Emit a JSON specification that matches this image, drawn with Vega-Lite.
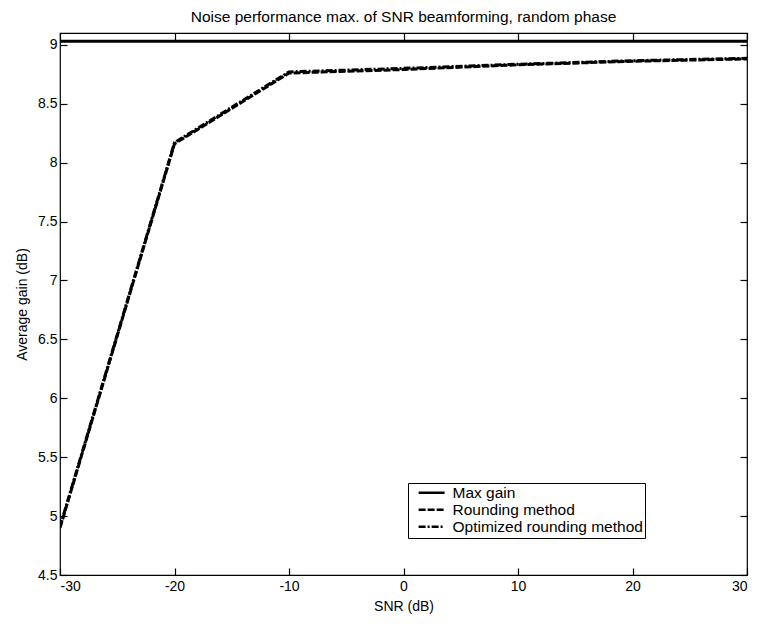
{
  "$schema": "https://vega.github.io/schema/vega-lite/v6.json",
  "width": 687,
  "height": 542,
  "autosize": {"type": "none"},
  "padding": {"left": 60, "top": 33, "right": 10, "bottom": 49},
  "background": "white",
  "title": {"text": "Noise performance max. of SNR beamforming, random phase", "fontSize": 15.5, "fontWeight": "normal", "font": "Liberation Sans", "color": "black", "offset": 7},
  "config": {
    "view": {"stroke": "black", "strokeWidth": 1.2},
    "font": "Liberation Sans",
    "axis": {"grid": false, "domain": false, "tickColor": "black", "tickSize": -7, "tickWidth": 1.2, "labelColor": "black", "labelFontSize": 14, "labelFont": "Liberation Sans", "titleFont": "Liberation Sans", "titleFontSize": 14, "titleFontWeight": "normal", "titleColor": "black", "labelExpr": "'' + datum.value"},
    "legend": {"orient": "none", "legendX": 348, "legendY": 450, "strokeColor": "black", "fillColor": "white", "padding": 2, "labelFontSize": 15.5, "labelColor": "black", "labelLimit": 400, "symbolType": "M0.2,0H6.2", "symbolSize": 75, "symbolStrokeWidth": 2.5, "symbolStrokeColor": "black", "labelOffset": 27, "rowPadding": 0, "title": null}
  },
  "data": {"values": [
    {"snr": -30, "gain": 9.031, "series": "Max gain"},
    {"snr": 30, "gain": 9.031, "series": "Max gain"},
    {"snr": -30, "gain": 4.90, "series": "Rounding method"},
    {"snr": -20, "gain": 8.16, "series": "Rounding method"},
    {"snr": -10, "gain": 8.76, "series": "Rounding method"},
    {"snr": 0, "gain": 8.79, "series": "Rounding method"},
    {"snr": 10, "gain": 8.83, "series": "Rounding method"},
    {"snr": 20, "gain": 8.86, "series": "Rounding method"},
    {"snr": 30, "gain": 8.88, "series": "Rounding method"},
    {"snr": -30, "gain": 4.91, "series": "Optimized rounding method"},
    {"snr": -20, "gain": 8.17, "series": "Optimized rounding method"},
    {"snr": -10, "gain": 8.77, "series": "Optimized rounding method"},
    {"snr": 0, "gain": 8.80, "series": "Optimized rounding method"},
    {"snr": 10, "gain": 8.835, "series": "Optimized rounding method"},
    {"snr": 20, "gain": 8.865, "series": "Optimized rounding method"},
    {"snr": 30, "gain": 8.885, "series": "Optimized rounding method"}
  ]},
  "layer": [
    {
      "mark": {"type": "line", "color": "black", "strokeWidth": 3, "clip": true},
      "encoding": {
        "x": {"field": "snr", "type": "quantitative", "scale": {"domain": [-30, 30], "nice": false, "zero": false}, "axis": {"values": [-30, -20, -10, 0, 10, 20, 30], "title": "SNR (dB)", "labelPadding": 11, "titlePadding": 6}},
        "y": {"field": "gain", "type": "quantitative", "scale": {"domain": [4.5, 9.1], "nice": false, "zero": false}, "axis": {"values": [4.5, 5, 5.5, 6, 6.5, 7, 7.5, 8, 8.5, 9], "title": "Average gain (dB)", "labelPadding": 10, "titlePadding": 8}},
        "strokeDash": {"field": "series", "type": "nominal", "scale": {"domain": ["Max gain", "Rounding method", "Optimized rounding method"], "range": [[1, 0], [7, 2], [7, 2, 2, 2]]}, "legend": {"title": null}},
        "detail": {"field": "series"}
      }
    },
    {
      "mark": {"type": "line", "strokeOpacity": 0},
      "encoding": {
        "x": {"field": "snr", "type": "quantitative", "axis": {"orient": "top", "values": [-30, -20, -10, 0, 10, 20, 30], "labels": false, "title": null}},
        "y": {"field": "gain", "type": "quantitative", "axis": {"orient": "right", "values": [4.5, 5, 5.5, 6, 6.5, 7, 7.5, 8, 8.5, 9], "labels": false, "title": null}},
        "detail": {"field": "series"}
      }
    }
  ],
  "resolve": {"axis": {"x": "independent", "y": "independent"}}
}
